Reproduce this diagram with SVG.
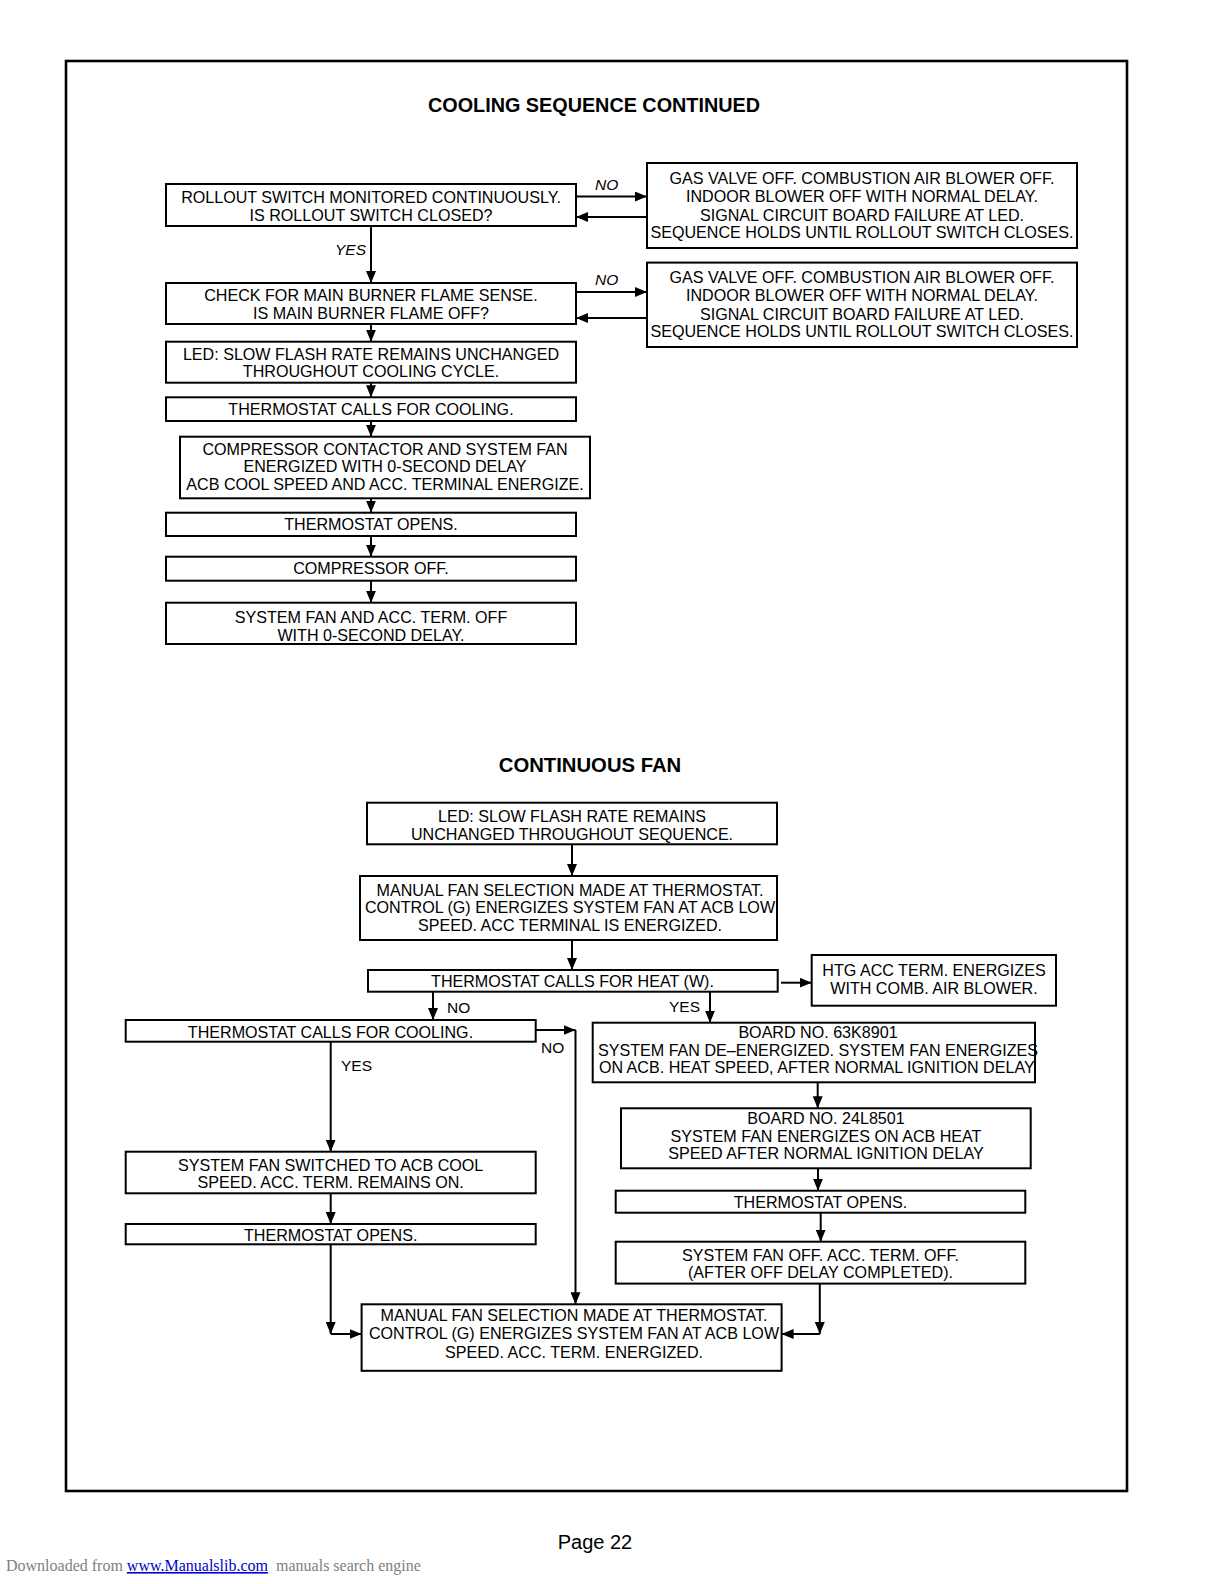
<svg xmlns="http://www.w3.org/2000/svg" width="1224" height="1584" viewBox="0 0 1224 1584">
<style>
.b{fill:#fff;stroke:#000;stroke-width:2}
.t{font-family:"Liberation Sans",Arial,sans-serif;font-size:16.1px;text-anchor:middle;fill:#000}
.l{font-family:"Liberation Sans",Arial,sans-serif;font-size:15.5px;fill:#000}
.i{font-style:italic}
.h{font-family:"Liberation Sans",Arial,sans-serif;font-weight:bold;text-anchor:middle;fill:#000}
.c line{stroke:#000;stroke-width:2;fill:none}
.a{marker-end:url(#ah)}
</style>
<defs>
<marker id="ah" markerWidth="12" markerHeight="10" refX="12" refY="5" orient="auto" markerUnits="userSpaceOnUse"><path d="M0,0 L12,5 L0,10 z" fill="#000"/></marker>
</defs>
<rect x="0" y="0" width="1224" height="1584" fill="#fff"/>
<rect x="66" y="61" width="1061" height="1430" fill="none" stroke="#000" stroke-width="2.6"/>
<text class="h" x="594" y="112" font-size="19.8">COOLING SEQUENCE CONTINUED</text>
<text class="h" x="590" y="772" font-size="20.3">CONTINUOUS FAN</text>

<g class="c" id="connectors">
<line class="a" x1="576" y1="196.5" x2="647" y2="196.5"/>
<line class="a" x1="647" y1="217" x2="576" y2="217"/>
<line class="a" x1="576" y1="292" x2="647" y2="292"/>
<line class="a" x1="647" y1="318" x2="576" y2="318"/>
<line class="a" x1="371" y1="226" x2="371" y2="283"/>
<line class="a" x1="371" y1="324" x2="371" y2="341.7"/>
<line class="a" x1="371" y1="382.7" x2="371" y2="397.3"/>
<line class="a" x1="371" y1="421" x2="371" y2="436.7"/>
<line class="a" x1="371" y1="498.3" x2="371" y2="512.7"/>
<line class="a" x1="371" y1="536" x2="371" y2="556.7"/>
<line class="a" x1="371" y1="580.7" x2="371" y2="602.7"/>

<line class="a" x1="572" y1="844.3" x2="572" y2="876"/>
<line class="a" x1="572" y1="940" x2="572" y2="970"/>
<line class="a" x1="781" y1="982.7" x2="811.7" y2="982.7"/>
<line class="a" x1="433" y1="991.7" x2="433" y2="1020"/>
<line class="a" x1="710" y1="991.7" x2="710" y2="1022.7"/>
<line class="a" x1="535.7" y1="1030" x2="575.5" y2="1030"/>
<line class="a" x1="575.5" y1="1030" x2="575.5" y2="1304.3"/>
<line class="a" x1="330.7" y1="1041.7" x2="330.7" y2="1151.7"/>
<line class="a" x1="330.7" y1="1193.3" x2="330.7" y2="1224"/>
<line class="a" x1="330.7" y1="1244.3" x2="330.7" y2="1334"/>
<line class="a" x1="330.7" y1="1334" x2="361.6" y2="1334"/>
<line class="a" x1="817.7" y1="1082.3" x2="817.7" y2="1108.3"/>
<line class="a" x1="818" y1="1168.3" x2="818" y2="1190.7"/>
<line class="a" x1="820.7" y1="1212.7" x2="820.7" y2="1241.7"/>
<line class="a" x1="819.8" y1="1283.6" x2="819.8" y2="1334"/>
<line class="a" x1="819.8" y1="1334" x2="781.6" y2="1334"/>
</g>

<text class="l i" x="595" y="190">NO</text>
<text class="l i" x="595" y="285">NO</text>
<text class="l i" x="335" y="255">YES</text>
<text class="l" x="447" y="1013">NO</text>
<text class="l" x="669" y="1012">YES</text>
<text class="l" x="541" y="1053">NO</text>
<text class="l" x="341" y="1071">YES</text>

<g id="rollout"><rect class="b" x="166" y="184" width="410" height="42"/>
<text class="t" x="371" y="203.4">ROLLOUT SWITCH MONITORED CONTINUOUSLY.</text>
<text class="t" x="371" y="221">IS ROLLOUT SWITCH CLOSED?</text></g>

<g id="gasvalve1"><rect class="b" x="647" y="163" width="430" height="85"/>
<text class="t" x="862" y="184.3">GAS VALVE OFF. COMBUSTION AIR BLOWER OFF.</text>
<text class="t" x="862" y="202.3">INDOOR BLOWER OFF WITH NORMAL DELAY.</text>
<text class="t" x="862" y="220.5">SIGNAL CIRCUIT BOARD FAILURE AT LED.</text>
<text class="t" x="862" y="238.4">SEQUENCE HOLDS UNTIL ROLLOUT SWITCH CLOSES.</text></g>

<g id="flamesense"><rect class="b" x="166" y="283" width="410" height="41"/>
<text class="t" x="371" y="301.3">CHECK FOR MAIN BURNER FLAME SENSE.</text>
<text class="t" x="371" y="318.9">IS MAIN BURNER FLAME OFF?</text></g>

<g id="gasvalve2"><rect class="b" x="647" y="262.6" width="430" height="84.4"/>
<text class="t" x="862" y="283.3">GAS VALVE OFF. COMBUSTION AIR BLOWER OFF.</text>
<text class="t" x="862" y="301.3">INDOOR BLOWER OFF WITH NORMAL DELAY.</text>
<text class="t" x="862" y="319.5">SIGNAL CIRCUIT BOARD FAILURE AT LED.</text>
<text class="t" x="862" y="337.4">SEQUENCE HOLDS UNTIL ROLLOUT SWITCH CLOSES.</text></g>

<g id="led1"><rect class="b" x="166" y="341.7" width="410" height="41"/>
<text class="t" x="371" y="359.6">LED: SLOW FLASH RATE REMAINS UNCHANGED</text>
<text class="t" x="371" y="377.3">THROUGHOUT COOLING CYCLE.</text></g>

<g id="callscool1"><rect class="b" x="166" y="397.3" width="410" height="23.7"/>
<text class="t" x="371" y="415.2">THERMOSTAT CALLS FOR COOLING.</text></g>

<g id="compressor"><rect class="b" x="180" y="436.7" width="410" height="61.6"/>
<text class="t" x="385" y="454.9">COMPRESSOR CONTACTOR AND SYSTEM FAN</text>
<text class="t" x="385" y="471.6">ENERGIZED WITH 0-SECOND DELAY</text>
<text class="t" x="385" y="489.6">ACB COOL SPEED AND ACC. TERMINAL ENERGIZE.</text></g>

<g id="opens1"><rect class="b" x="166" y="512.7" width="410" height="23.3"/>
<text class="t" x="371" y="529.7">THERMOSTAT OPENS.</text></g>

<g id="compoff"><rect class="b" x="166" y="556.7" width="410" height="24"/>
<text class="t" x="371" y="574.3">COMPRESSOR OFF.</text></g>

<g id="fanoff1"><rect class="b" x="166" y="602.7" width="410" height="41.3"/>
<text class="t" x="371" y="623.3">SYSTEM FAN AND ACC. TERM. OFF</text>
<text class="t" x="371" y="641.3">WITH 0-SECOND DELAY.</text></g>

<g id="led2"><rect class="b" x="367" y="802.7" width="410" height="41.6"/>
<text class="t" x="572" y="822.3">LED: SLOW FLASH RATE REMAINS</text>
<text class="t" x="572" y="839.6">UNCHANGED THROUGHOUT SEQUENCE.</text></g>

<g id="manual1"><rect class="b" x="360" y="876" width="417" height="64"/>
<text class="t" x="570" y="895.6">MANUAL FAN SELECTION MADE AT THERMOSTAT.</text>
<text class="t" x="570" y="912.9">CONTROL (G) ENERGIZES SYSTEM FAN AT ACB LOW</text>
<text class="t" x="570" y="930.6">SPEED. ACC TERMINAL IS ENERGIZED.</text></g>

<g id="callsheat"><rect class="b" x="368" y="970" width="409.7" height="21.7"/>
<text class="t" x="572.5" y="987.3">THERMOSTAT CALLS FOR HEAT (W).</text></g>

<g id="htgacc"><rect class="b" x="811.7" y="955" width="244.3" height="50.7"/>
<text class="t" x="934" y="976.3">HTG ACC TERM. ENERGIZES</text>
<text class="t" x="934" y="994.3">WITH COMB. AIR BLOWER.</text></g>

<g id="callscool2"><rect class="b" x="125.7" y="1020" width="410" height="21.7"/>
<text class="t" x="330.5" y="1037.9">THERMOSTAT CALLS FOR COOLING.</text></g>

<g id="board63k"><rect class="b" x="592.7" y="1022.7" width="442.3" height="59.6"/>
<text class="t" x="818" y="1037.9">BOARD NO. 63K8901</text>
<text class="t" x="818" y="1055.6">SYSTEM FAN DE–ENERGIZED. SYSTEM FAN ENERGIZES</text>
<text class="t" x="818" y="1073.3">ON ACB. HEAT SPEED, AFTER NORMAL IGNITION DELAY.</text></g>

<g id="fancool"><rect class="b" x="125.7" y="1151.7" width="410" height="41.6"/>
<text class="t" x="330.7" y="1171.3">SYSTEM FAN SWITCHED TO ACB COOL</text>
<text class="t" x="330.7" y="1188.3">SPEED. ACC. TERM. REMAINS ON.</text></g>

<g id="board24l"><rect class="b" x="621" y="1108.3" width="409.7" height="60"/>
<text class="t" x="826" y="1123.9">BOARD NO. 24L8501</text>
<text class="t" x="826" y="1141.6">SYSTEM FAN ENERGIZES ON ACB HEAT</text>
<text class="t" x="826" y="1158.9">SPEED AFTER NORMAL IGNITION DELAY</text></g>

<g id="opens2"><rect class="b" x="125.7" y="1224" width="410" height="20.3"/>
<text class="t" x="330.7" y="1240.8">THERMOSTAT OPENS.</text></g>

<g id="opens3"><rect class="b" x="615.7" y="1190.7" width="409.6" height="22"/>
<text class="t" x="820.5" y="1208.4">THERMOSTAT OPENS.</text></g>

<g id="fanoff2"><rect class="b" x="615.7" y="1241.7" width="409.6" height="41.9"/>
<text class="t" x="820.5" y="1260.6">SYSTEM FAN OFF. ACC. TERM. OFF.</text>
<text class="t" x="820.5" y="1277.9">(AFTER OFF DELAY COMPLETED).</text></g>

<g id="manual2"><rect class="b" x="361.6" y="1304.3" width="420" height="66.5"/>
<text class="t" x="574" y="1321.4">MANUAL FAN SELECTION MADE AT THERMOSTAT.</text>
<text class="t" x="574" y="1339">CONTROL (G) ENERGIZES SYSTEM FAN AT ACB LOW</text>
<text class="t" x="574" y="1358">SPEED. ACC. TERM. ENERGIZED.</text></g>

<text x="595" y="1549" font-family="Liberation Sans, Arial, sans-serif" font-size="20" text-anchor="middle">Page 22</text>
<text x="6" y="1571" font-family="Liberation Serif, Times New Roman, serif" font-size="16" fill="#808080" xml:space="preserve">Downloaded from <tspan fill="#0000cc" text-decoration="underline">www.Manualslib.com</tspan>  manuals search engine</text>
</svg>
